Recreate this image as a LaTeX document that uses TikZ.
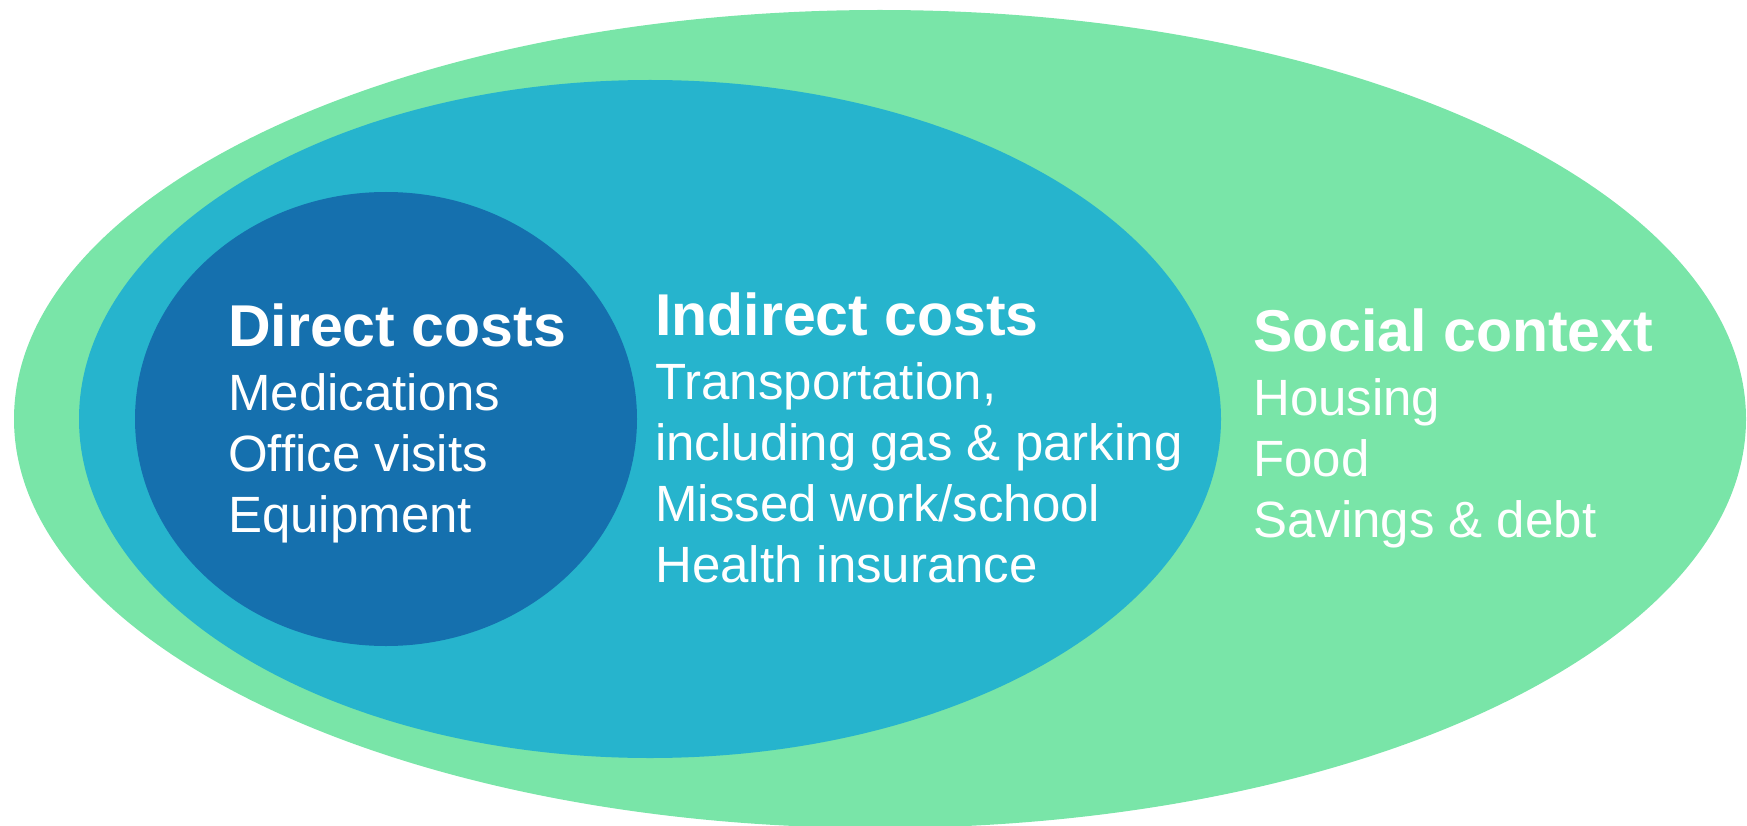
\documentclass[tikz,border=0pt]{standalone}
\usepackage{fontspec}
\setmainfont{Liberation Sans}
\definecolor{socialgreen}{HTML}{79E5A8}
\definecolor{indirectteal}{HTML}{26B4CD}
\definecolor{directblue}{HTML}{1570AE}
\tikzset{
  costlist/.style={anchor=base west, align=left, text=white, inner sep=0pt,
    font=\fontsize{51}{61}\selectfont},
}
\newcommand{\costhead}[1]{{\bfseries\fontsize{59}{61}\selectfont #1}\\[3pt]}
\begin{document}
\begin{tikzpicture}[x=1pt, y=-1pt]
          \useasboundingbox (0,0) rectangle (1747,826);
          \fill[color=socialgreen] (880,419) ellipse [x radius=866, y radius=409];
          \fill[color=indirectteal] (650,419) ellipse [x radius=571, y radius=339];
          \fill[color=directblue] (386,419) ellipse [x radius=251, y radius=227];

          % base anchor sits on the last line of each list
          \node[costlist] (direct) at (228,532)
          {\costhead{Direct costs}Medications\\Office visits\\Equipment};
          \node[costlist] (indirect) at (655,582)
          {\costhead{Indirect costs}Transportation,\\including gas \& parking\\Missed work/school\\Health insurance};
          \node[costlist] (social) at (1253,537)
          {\costhead{Social context}Housing\\Food\\Savings \& debt};
        \end{tikzpicture}
\end{document}
